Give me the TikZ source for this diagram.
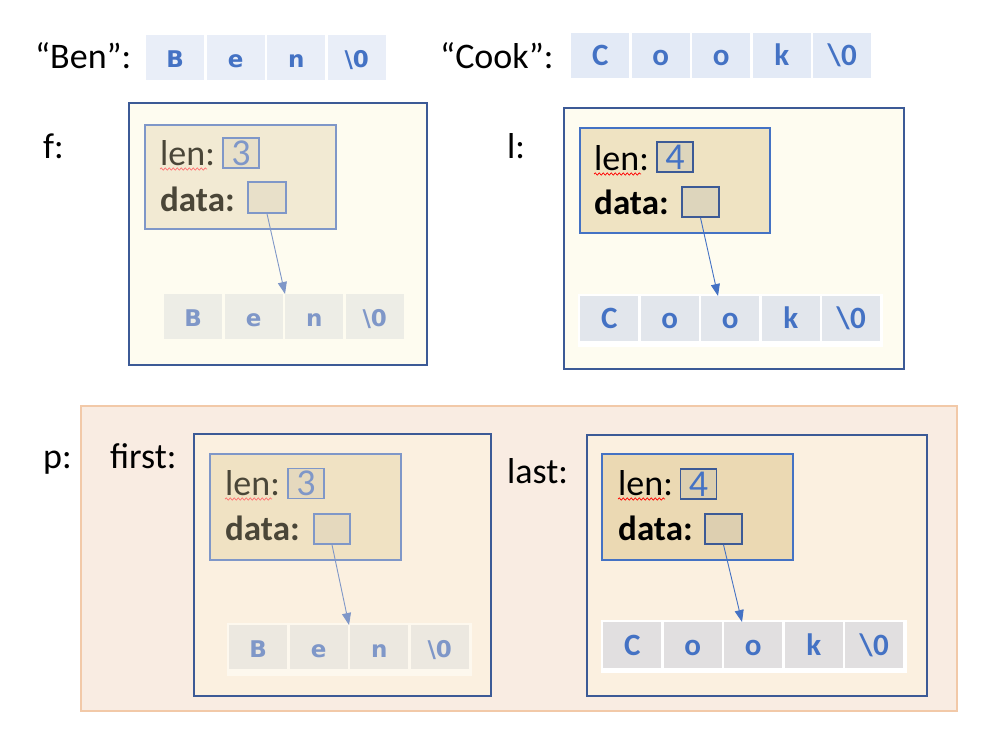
\documentclass[tikz,border=0pt]{standalone}
\usepackage{fontspec}
\setmainfont{Carlito}
\newfontfamily\benfont{DejaVu Sans}
\usepackage{xcolor}
\usetikzlibrary{arrows.meta, calc, decorations.pathmorphing}
\definecolor{boxblue}{HTML}{3C5A96}
\definecolor{paleblue}{HTML}{7F97C8}
\definecolor{charblue}{HTML}{4472C4}
\definecolor{cream}{HTML}{FEFCF0}
\definecolor{peach}{HTML}{F9ECE2}
\definecolor{peachline}{HTML}{F2C9A8}
\definecolor{pcream}{HTML}{FBF0E0}
\definecolor{fadetext}{HTML}{4A4638}
\definecolor{fstructfill}{HTML}{F2EAD3}
\definecolor{fvalfill}{HTML}{E8E0C9}
\definecolor{fcellfill}{HTML}{EDEDE6}
\definecolor{lstructfill}{HTML}{EFE3C2}
\definecolor{lvalfill}{HTML}{DDD5BC}
\definecolor{lcellfill}{HTML}{E2E6EC}
\definecolor{firststructfill}{HTML}{F0E2C3}
\definecolor{firstvalfill}{HTML}{E5D9BE}
\definecolor{firststrip}{HTML}{FDF8EE}
\definecolor{firstcellfill}{HTML}{ECE8E0}
\definecolor{laststructfill}{HTML}{EBD9B3}
\definecolor{lastvalfill}{HTML}{DDCFB0}
\definecolor{lastcellfill}{HTML}{E1DFE0}
\tikzset{
    outerbox/.style = {draw=boxblue, line width=1.8pt, anchor=north west, inner sep=0pt},
    structbox/.style = {line width=1.5pt, anchor=north west, inner sep=0pt},
    valbox/.style = {line width=1.5pt, inner sep=0pt, minimum width=36pt,
        minimum height=30pt, font=\fontsize{38}{40}\selectfont},
    label/.style = {inner sep=0pt, anchor=base west, font=\fontsize{36}{40}\selectfont},
    boldlabel/.style = {label, font=\bfseries\fontsize{35}{40}\selectfont},
    cell/.style = {inner sep=0pt, anchor=north west, minimum width=58pt,
        minimum height=45pt, text height=20pt, text depth=0pt},
    bencell/.style = {cell, font=\benfont\bfseries\fontsize{23}{26}\selectfont},
    cookcell/.style = {cell, font=\bfseries\fontsize{31}{34}\selectfont},
    squiggle/.style = {decorate, decoration={snake, segment length=4pt, amplitude=1.1pt},
        line width=0.7pt},
    ptr/.style = {-{Triangle[length=12pt,width=9pt]}, line width=0.9pt},
}

\begin{document}
\begin{tikzpicture}[x=1pt, y=-1pt]
    \useasboundingbox (0,0) rectangle (990,732);
    % string literals
    \node (benlbl) [label] at (35,68) {“Ben”:};
    \foreach \c [count=\i] in {B,e,n,{\textbackslash0}}
        \node (ben\i) [bencell, fill=charblue!12, text=charblue] at ({146+(\i-1)*60.5},35) {\c};
    \node (cooklbl) [label] at (440,68) {“Cook”:};
    \foreach \c [count=\i] in {C,o,o,k,{\textbackslash0}}
        \node (cook\i) [cookcell, fill=charblue!15, text=charblue] at ({571+(\i-1)*60.5},33) {\c};

    % f
    \node (flbl) [label] at (43,158) {f:};
    \node (fbox) [outerbox, fill=cream, minimum width=298pt, minimum height=262pt] at (128,102) {};
    \node (fstruct) [structbox, draw=paleblue, fill=fstructfill, minimum width=191pt,
        minimum height=104pt] at (144,124) {};
    \node (flen) [label, text=fadetext] at (160,165) {len:};
    \draw [squiggle, red!55] ([yshift=-4pt]flen.base west) -- +(47,0);
    \node (flenval) [valbox, draw=paleblue, fill=fvalfill, text=paleblue] at (241,153) {3};
    \node (fdatalbl) [boldlabel, text=fadetext] at (160,211) {data:};
    \node (fdata) [valbox, draw=paleblue, fill=fvalfill, minimum width=38pt,
        minimum height=31pt] at (267,197.5) {};
    \foreach \c [count=\i] in {B,e,n,{\textbackslash0}}
        \node (fc\i) [bencell, fill=fcellfill, text=paleblue] at ({164+(\i-1)*60.5},294) {\c};
    \draw [ptr, paleblue] (fdata.south) -- (fc3.north west);

    % l
    \node (llbl) [label] at (507,158) {l:};
    \node (lbox) [outerbox, fill=cream, minimum width=340pt, minimum height=261pt] at (563,107) {};
    \node (lstruct) [structbox, draw=charblue, fill=lstructfill, minimum width=190pt,
        minimum height=105pt] at (579,127) {};
    \node (llen) [label] at (594,170) {len:};
    \draw [squiggle, red] ([yshift=-4pt]llen.base west) -- +(47,0);
    \node (llenval) [valbox, draw=boxblue, fill=lvalfill, text=charblue] at (675,157) {4};
    \node (ldatalbl) [boldlabel] at (594,214) {data:};
    \node (ldata) [valbox, draw=boxblue, fill=lvalfill, minimum width=37pt,
        minimum height=30pt] at (700.5,202) {};
    \fill [white] (578,294) rectangle (883,347);
    \foreach \c [count=\i] in {C,o,o,k,{\textbackslash0}}
        \node (lc\i) [cookcell, fill=lcellfill, text=charblue] at ({580+(\i-1)*60.5},296) {\c};
    \draw [ptr, charblue] (ldata.south) -- ([xshift=17pt]lc3.north west);

    % p
    \node (plbl) [label] at (43,468) {p:};
    \node (pbox) [outerbox, draw=peachline, line width=2pt, fill=peach, minimum width=876pt,
        minimum height=305pt] at (80,405) {};
    \node (firstlbl) [label] at (110,468) {first:};
    \node (firstbox) [outerbox, fill=pcream, minimum width=297pt, minimum height=262pt] at (193,433) {};
    \node (firststruct) [structbox, draw=paleblue, fill=firststructfill, minimum width=191pt,
        minimum height=106pt] at (209,453) {};
    \node (firstlen) [label, text=fadetext] at (225,495) {len:};
    \draw [squiggle, red!55] ([yshift=-4pt]firstlen.base west) -- +(47,0);
    \node (firstlenval) [valbox, draw=paleblue, fill=firstvalfill, text=paleblue] at (306,483.5) {3};
    \node (firstdatalbl) [boldlabel, text=fadetext] at (225,540) {data:};
    \node (firstdata) [valbox, draw=paleblue, fill=firstvalfill] at (332,529) {};
    \fill [firststrip] (227,623) rectangle (472,676);
    \foreach \c [count=\i] in {B,e,n,{\textbackslash0}}
        \node (firstc\i) [bencell, fill=firstcellfill, minimum height=44pt, text=paleblue]
            at ({229+(\i-1)*60.5},625) {\c};
    \draw [ptr, paleblue] (firstdata.south) -- ([xshift=-1pt]firstc3.north west);

    \node (lastlbl) [label] at (507,483) {last:};
    \node (lastbox) [outerbox, fill=pcream, minimum width=340pt, minimum height=261pt] at (586,434) {};
    \node (laststruct) [structbox, draw=charblue, fill=laststructfill, minimum width=191pt,
        minimum height=106pt] at (601,453) {};
    \node (lastlen) [label] at (618,495) {len:};
    \draw [squiggle, red] ([yshift=-4pt]lastlen.base west) -- +(47,0);
    \node (lastlenval) [valbox, draw=boxblue, fill=lastvalfill, text=charblue] at (698.5,484) {4};
    \node (lastdatalbl) [boldlabel] at (618,540) {data:};
    \node (lastdata) [valbox, draw=boxblue, fill=lastvalfill, minimum width=37pt] at (723.5,529) {};
    \fill [white] (601,620) rectangle (907,673);
    \foreach \c [count=\i] in {C,o,o,k,{\textbackslash0}}
        \node (lastc\i) [cookcell, fill=lastcellfill, minimum height=46pt, text=charblue]
            at ({603+(\i-1)*60.5},622) {\c};
    \draw [ptr, charblue] (lastdata.south) -- ([xshift=18pt]lastc3.north west);
\end{tikzpicture}
\end{document}
